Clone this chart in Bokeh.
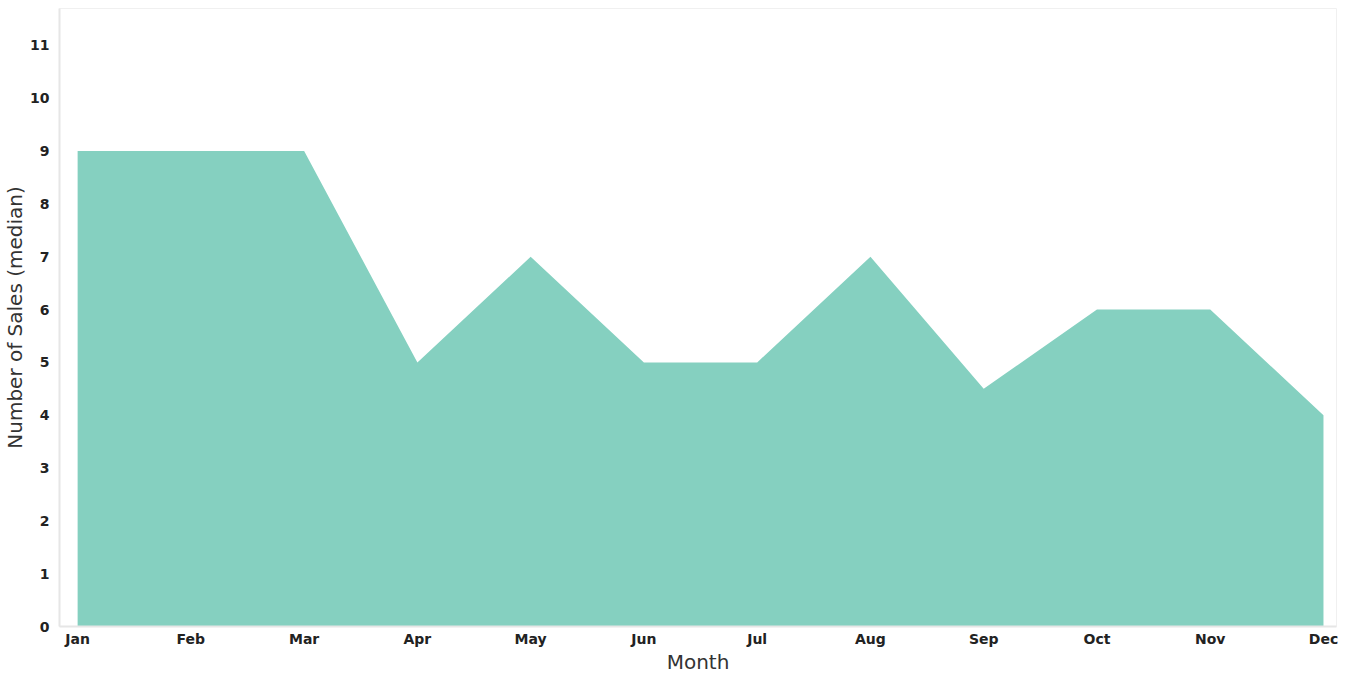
from bokeh.plotting import figure
from bokeh.models import Range1d, FixedTicker
from bokeh.embed import file_html
from bokeh.resources import INLINE

months = ["Jan", "Feb", "Mar", "Apr", "May", "Jun", "Jul", "Aug", "Sep", "Oct", "Nov", "Dec"]
sales_median = [9, 9, 9, 5, 7, 5, 5, 7, 4.5, 6, 6, 4]
y_ticks = list(range(0, 12))

x_idx = list(range(len(months)))

p = figure(width=1346, height=676, output_backend="svg", toolbar_location=None,
           x_range=Range1d(-0.16, 11.115), y_range=Range1d(0, 11.7),
           min_border_left=40, min_border_right=10, min_border_top=8, min_border_bottom=20)

p.varea(x=x_idx, y1=[0] * len(months), y2=sales_median, fill_color="#85D0C0", fill_alpha=1.0)

p.xaxis.ticker = FixedTicker(ticks=x_idx)
p.xaxis.major_label_overrides = {i: m for i, m in enumerate(months)}
p.yaxis.ticker = FixedTicker(ticks=y_ticks)

p.xaxis.axis_label = "Month"
p.yaxis.axis_label = "Number of Sales (median)"

for ax in (p.xaxis, p.yaxis):
    ax.major_label_text_font = "DejaVu Sans"
    ax.major_label_text_font_style = "bold"
    ax.major_label_text_font_size = "14px"
    ax.major_label_text_color = "#222222"
    ax.axis_label_text_font = "DejaVu Sans"
    ax.axis_label_text_font_style = "normal"
    ax.axis_label_text_font_size = "20px"
    ax.axis_label_text_color = "#333333"
    ax.major_tick_line_color = None
    ax.minor_tick_line_color = None
    ax.major_tick_out = 0
    ax.major_tick_in = 0
    ax.minor_tick_out = 0
    ax.minor_tick_in = 0
    ax.axis_line_color = "#e6e6e6"
    ax.axis_line_width = 2
    ax.axis_label_standoff = 0

p.xaxis.major_label_standoff = 4
p.yaxis.major_label_standoff = 10

p.xgrid.grid_line_color = None
p.ygrid.grid_line_color = None
p.outline_line_color = "#f0f0f0"
p.background_fill_color = "white"
p.border_fill_color = "white"

open("out.html", "w").write(file_html(p, INLINE))
